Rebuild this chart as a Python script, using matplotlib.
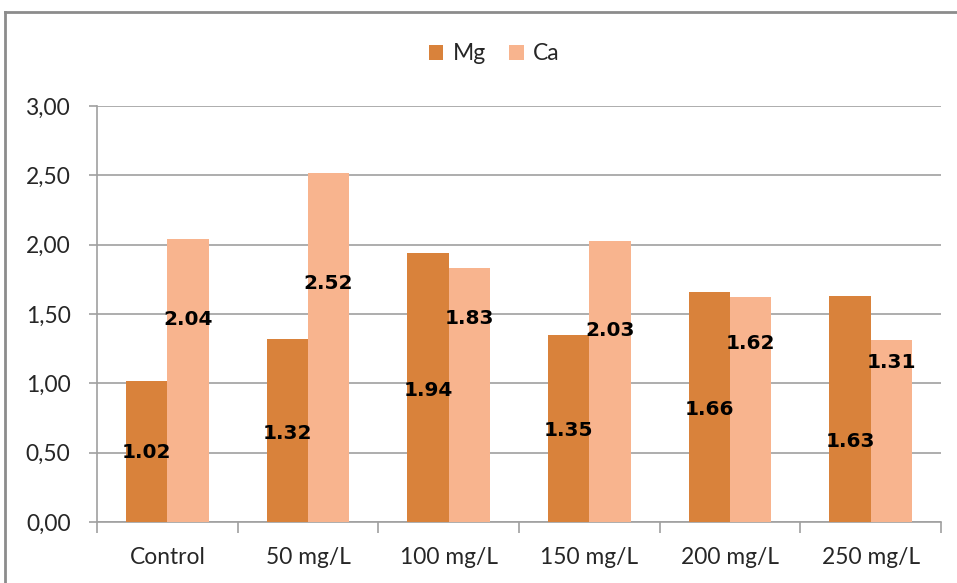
import matplotlib
matplotlib.use("Agg")
import matplotlib.pyplot as plt
from matplotlib.ticker import FuncFormatter, FixedLocator
from matplotlib.lines import Line2D

# Data
categories = ["Control", "50 mg/L", "100 mg/L", "150 mg/L", "200 mg/L", "250 mg/L"]
mg_values = [1.02, 1.32, 1.94, 1.35, 1.66, 1.63]
ca_values = [2.04, 2.52, 1.83, 2.03, 1.62, 1.31]

# Vertical placement of the value labels (data units)
mg_label_y = [0.50, 0.64, 0.95, 0.66, 0.81, 0.58]
ca_label_y = [1.46, 1.72, 1.47, 1.38, 1.29, 1.15]

mg_color = "#D9823B"
ca_color = "#F8B48E"
grid_color = "#A0A0A0"
text_color = "#262626"

tick_font = ["Lato", "DejaVu Sans"]
label_font = ["DejaVu Sans"]

W, H = 957, 583
fig = plt.figure(figsize=(W / 100, H / 100), dpi=100)
fig.patch.set_facecolor("white")

left, right, bottom, top = 97, 941, 522, 106
ax = fig.add_axes([left / W, (H - bottom) / H, (right - left) / W, (bottom - top) / H])

x = list(range(len(categories)))
bw = 0.293
ax.bar([i - bw / 2 for i in x], mg_values, width=bw, color=mg_color, label="Mg", zorder=3)
ax.bar([i + bw / 2 for i in x], ca_values, width=bw, color=ca_color, label="Ca", zorder=3)

for i in x:
    ax.text(i - bw / 2, mg_label_y[i], f"{mg_values[i]:.2f}", ha="center", va="center",
            fontsize=14.5, fontweight="bold", family=label_font, color="black", zorder=5)
    ax.text(i + bw / 2, ca_label_y[i], f"{ca_values[i]:.2f}", ha="center", va="center",
            fontsize=14.5, fontweight="bold", family=label_font, color="black", zorder=5)

ax.set_xlim(-0.5, len(categories) - 0.5)
ax.set_ylim(0, 3.0)
ax.set_yticks([0, 0.5, 1.0, 1.5, 2.0, 2.5, 3.0])
ax.yaxis.set_major_formatter(FuncFormatter(lambda v, p: f"{v:.2f}".replace(".", ",")))
ax.grid(axis="y", color=grid_color, linewidth=1.2, zorder=0)
ax.set_axisbelow(True)

ax.set_xticks(x)
ax.set_xticklabels(categories)
ax.xaxis.set_minor_locator(FixedLocator([i - 0.5 for i in range(len(categories) + 1)]))
ax.tick_params(axis="x", which="major", length=0, pad=18, labelsize=16.4, labelcolor=text_color)
ax.tick_params(axis="x", which="minor", length=8, width=1.2, color=grid_color, direction="out")
ax.tick_params(axis="y", length=6, width=1.2, color=grid_color, pad=13, labelsize=16.4,
               labelcolor=text_color)
for lab in ax.get_xticklabels() + ax.get_yticklabels():
    lab.set_family(tick_font)

for side in ("top", "right"):
    ax.spines[side].set_visible(False)
for side in ("left", "bottom"):
    ax.spines[side].set_color(grid_color)
    ax.spines[side].set_linewidth(1.2)

leg = fig.legend(loc="center", bbox_to_anchor=(494 / W, (H - 54) / H), ncol=2, frameon=False,
                 handlelength=0.65, handleheight=0.65, handletextpad=0.4, columnspacing=1.0,
                 prop={"family": tick_font, "size": 16.5})
for t in leg.get_texts():
    t.set_color(text_color)

# Outer chart frame (left and top edges)
fig.add_artist(Line2D([5 / W, 5 / W], [0, (H - 12) / H], transform=fig.transFigure,
                      color="#8C8C8C", linewidth=2))
fig.add_artist(Line2D([5 / W, 1], [(H - 12) / H, (H - 12) / H], transform=fig.transFigure,
                      color="#8C8C8C", linewidth=2))

fig.savefig("out.png", dpi=100)
